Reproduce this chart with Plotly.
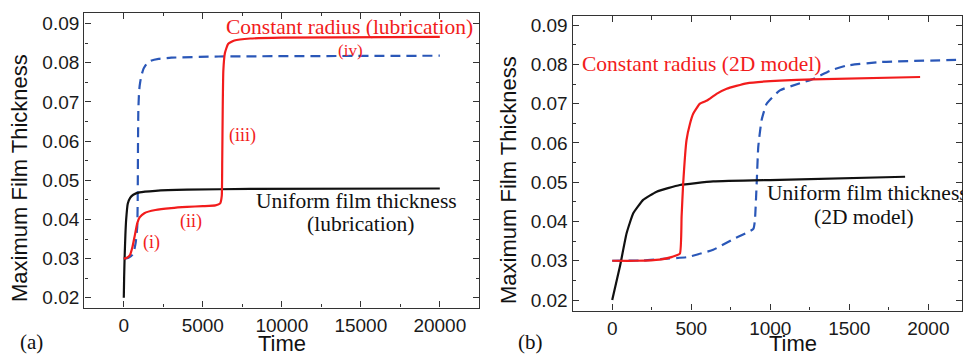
import plotly.graph_objects as go

# ---- Panel (a): lubrication model ----
a_uniform_t = [0, 20, 50, 100, 150, 250, 400, 600, 1000, 2000, 4000, 8000, 20000]
a_uniform_h = [0.020, 0.025, 0.030, 0.036, 0.040, 0.044, 0.0455, 0.0463, 0.0469, 0.0473, 0.0476, 0.0478, 0.0479]

a_radius_t = [0, 200, 400, 550, 700, 850, 1000, 1300, 2000, 3000, 4000, 5000, 5800, 6100, 6200,
              6230, 6260, 6300, 6400, 6600, 7000, 8000, 10000, 20000]
a_radius_h = [0.030, 0.0302, 0.031, 0.033, 0.036, 0.039, 0.0405, 0.0416, 0.0424, 0.0429, 0.0432,
              0.0434, 0.0436, 0.0441, 0.046, 0.055, 0.068, 0.078, 0.0825, 0.0848, 0.0857, 0.0862,
              0.0864, 0.0866]

a_angle_t = [0, 300, 550, 650, 750, 850, 880, 900, 920, 960, 1000, 1100, 1250, 1450, 1700, 2200,
             3000, 6000, 20000]
a_angle_h = [0.030, 0.0302, 0.031, 0.032, 0.034, 0.038, 0.045, 0.060, 0.068, 0.072, 0.074, 0.0765,
             0.0785, 0.0798, 0.0805, 0.0810, 0.0813, 0.0816, 0.0818]

a_xticks = [0, 5000, 10000, 15000, 20000]
a_xlabels = ["0", "5000", "10000", "15000", "20000"]

# ---- Panel (b): 2D model ----
b_uniform_t = [0, 49, 91, 133, 196, 281, 428, 639, 1061, 1853]
b_uniform_h = [0.020, 0.0286, 0.037, 0.0421, 0.0455, 0.0476, 0.0493, 0.0502, 0.0506, 0.0514]

b_radius_t = [0, 150, 300, 380, 428, 439, 449, 470, 492, 513, 555, 600, 618, 660, 724, 850, 1061,
              1272, 1948]
b_radius_h = [0.030, 0.0300, 0.0303, 0.031, 0.0318, 0.0413, 0.0497, 0.0607, 0.0649, 0.0675, 0.0700,
              0.0708, 0.0713, 0.0725, 0.0738, 0.0752, 0.0759, 0.0762, 0.0768]

b_angle_t = [0, 200, 323, 470, 639, 766, 893, 903, 914, 924, 945, 977, 1061, 1188, 1272, 1378, 1483,
             1694, 2220]
b_angle_h = [0.030, 0.0301, 0.0305, 0.0309, 0.0328, 0.0355, 0.0381, 0.0404, 0.0497, 0.059, 0.0658,
             0.070, 0.0734, 0.0752, 0.0763, 0.0784, 0.0797, 0.0806, 0.0812]

b_xticks = [0, 500, 1000, 1500, 2000]
b_xlabels = ["0", "500", "1000", "1500", "2000"]

y_ticks = [0.02, 0.03, 0.04, 0.05, 0.06, 0.07, 0.08, 0.09]
y_labels = ["0.02", "0.03", "0.04", "0.05", "0.06", "0.07", "0.08", "0.09"]

RED = "#f21c1c"
BLUE = "#2a57b8"
BLACK = "#111111"
SANS = "Liberation Sans, Arial, sans-serif"
SERIF = "Liberation Serif, Times New Roman, serif"

W, H = 963, 356

fig = go.Figure()

def add(x, y, color, dash, xa, ya):
    fig.add_trace(go.Scatter(x=x, y=y, mode="lines", xaxis=xa, yaxis=ya,
                             line=dict(color=color, width=2.2, dash=dash, shape="spline", smoothing=0.4),
                             showlegend=False, hoverinfo="skip"))

add(a_angle_t, a_angle_h, BLUE, "10px,6px", "x", "y")
add(a_uniform_t, a_uniform_h, BLACK, "solid", "x", "y")
add(a_radius_t, a_radius_h, RED, "solid", "x", "y")

add(b_angle_t, b_angle_h, BLUE, "10px,6px", "x2", "y2")
add(b_uniform_t, b_uniform_h, BLACK, "solid", "x2", "y2")
add(b_radius_t, b_radius_h, RED, "solid", "x2", "y2")

axis_common = dict(showline=True, linecolor="#333333", linewidth=1.4, mirror="allticks",
                   ticks="inside", ticklen=6, tickwidth=1.4, tickcolor="#333333",
                   showgrid=False, zeroline=False,
                   tickfont=dict(family=SANS, size=19, color="#1a1a1a"))

def px(v):
    return v / W

def py(v):
    return 1 - v / H

fig.update_layout(
    width=W, height=H, margin=dict(l=0, r=0, t=0, b=0),
    paper_bgcolor="white", plot_bgcolor="white",
    xaxis=dict(axis_common, domain=[px(84.3), px(479.3)], range=[-2500, 22500],
               tickvals=a_xticks, ticktext=a_xlabels, anchor="y",
               minor=dict(ticks="inside", ticklen=3.5, dtick=2500, tick0=0, tickcolor="#333333")),
    yaxis=dict(axis_common, domain=[py(308.3), py(11.7)], range=[0.0175, 0.0928],
               tickvals=y_ticks, ticktext=y_labels, anchor="x",
               minor=dict(ticks="inside", ticklen=3.5, dtick=0.005, tick0=0.02, tickcolor="#333333")),
    xaxis2=dict(axis_common, domain=[px(572.7), px(962)], range=[-250, 2213],
                tickvals=b_xticks, ticktext=b_xlabels, anchor="y2",
                minor=dict(ticks="inside", ticklen=3.5, dtick=250, tick0=0, tickcolor="#333333")),
    yaxis2=dict(axis_common, domain=[py(311.3), py(15)], range=[0.01732, 0.09236],
                tickvals=y_ticks, ticktext=y_labels, anchor="x2",
                minor=dict(ticks="inside", ticklen=3.5, dtick=0.005, tick0=0.02, tickcolor="#333333")),
)

def note(text, x, y, size, color, family, angle=0, xanchor="center"):
    fig.add_annotation(text=text, x=px(x), y=py(y), xref="paper", yref="paper",
                       showarrow=False, xanchor=xanchor, yanchor="middle", textangle=angle,
                       font=dict(family=family, size=size, color=color))

# axis titles
note("Maximum Film Thickness", 19, 178, 22, "#111111", SANS, angle=-90)
note("Maximum Film Thickness", 509, 180, 22, "#111111", SANS, angle=-90)
note("Time", 282, 344, 22, "#111111", SANS)
note("Time", 793, 344, 22, "#111111", SANS)

# panel labels
note("(a)", 31, 343, 21, "#111111", SERIF)
note("(b)", 530, 343, 21, "#111111", SERIF)

# panel (a) annotations
note("Constant radius (lubrication)", 349, 26, 21.5, RED, SERIF)
note("(iv)", 350, 50, 17, RED, SERIF)
note("(iii)", 243, 135, 18, RED, SERIF)
note("(ii)", 191, 222, 18, RED, SERIF)
note("(i)", 151, 243, 18, RED, SERIF)
note("Uniform film thickness", 356, 201, 21.5, "#111111", SERIF)
note("(lubrication)", 360, 224, 21.5, "#111111", SERIF)

# panel (b) annotations
note("Constant radius (2D model)", 701, 63, 21.5, RED, SERIF)
note("Uniform film thickness", 765, 193, 21.5, "#111111", SERIF, xanchor="left")
note("(2D model)", 864, 217, 21.5, "#111111", SERIF)

fig.write_html("out.html")
